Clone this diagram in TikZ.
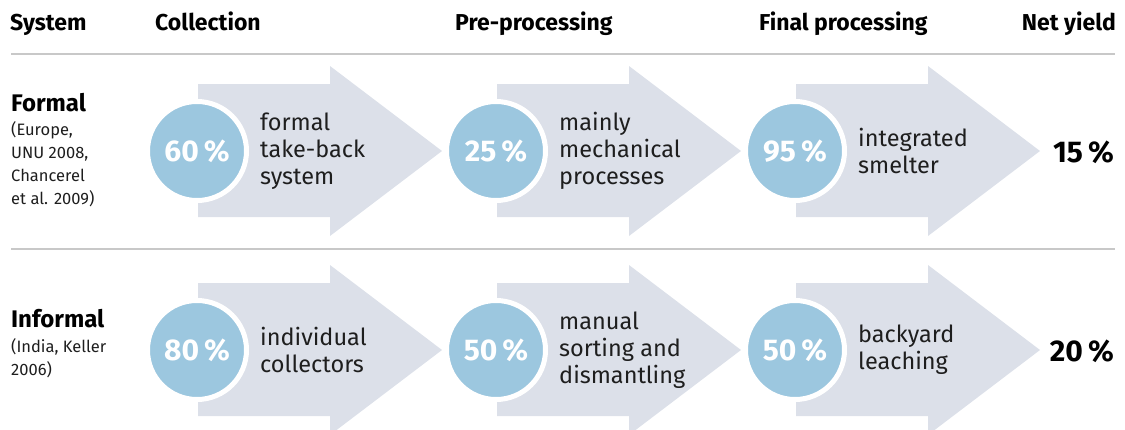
\documentclass[tikz,border=0pt]{standalone}
\usepackage{fontspec}
\setmainfont{Fira Sans}
\definecolor{arrowgray}{HTML}{DCE0E9}
\definecolor{circblue}{HTML}{9CC7DF}
\definecolor{rulegray}{HTML}{C8C8C8}
\definecolor{txt}{HTML}{1E1E1E}
\tikzset{
  head/.style={anchor=base west, inner sep=0pt, font=\fontsize{23}{27}\selectfont\bfseries, text=black},
  sysname/.style={anchor=base west, inner sep=0pt, font=\fontsize{24}{28}\selectfont\bfseries, text=black},
  srcnote/.style={anchor=base west, inner sep=0pt, font=\fontsize{16.5}{23}\selectfont, text=txt},
  steptext/.style={anchor=west, inner sep=0pt, align=left, font=\fontsize{23.5}{27}\selectfont, text=txt},
  pct/.style={circle, fill=circblue, draw=white, line width=5pt, minimum size=99pt, inner sep=0pt, font=\fontsize{30}{31}\selectfont\bfseries, text=white},
  yield/.style={anchor=east, inner sep=0pt, font=\fontsize{30}{31}\selectfont\bfseries, text=black},
  rowrule/.style={draw=rulegray, line width=1.5pt}
}
\newcommand{\bigarrow}[2]{%
  \fill[arrowgray] (#1,#2-67) -- ++(132,0) -- ++(0,-18) -- (#1+244,#2) -- (#1+132,#2+85) -- ++(0,-19) -- (#1,#2+66) -- cycle;}
\begin{document}
\begin{tikzpicture}[x=1pt,y=-1pt]
\useasboundingbox (0,0) rectangle (1125,429);
% headers
\node[head] (hsys) at (10,30) {System};
\node[head] (hcol) at (155,30) {Collection};
\node[head] (hpre) at (455,30) {Pre-processing};
\node[head] (hfin) at (759,30) {Final processing};
\node[head, anchor=base east] (hnet) at (1116,30) {Net yield};
% rules
\coordinate (r1a) at (11,54); \coordinate (r1b) at (1115,54);
\coordinate (r2a) at (11,249); \coordinate (r2b) at (1115,249);
\draw[rowrule] (r1a) -- (r1b);
\draw[rowrule] (r2a) -- (r2b);
% row 1
\node[sysname] (formal) at (11,111) {Formal};
\node[srcnote] (f1) at (11,135) {(Europe,};
\node[srcnote] (f2) at (11,158) {UNU 2008,};
\node[srcnote] (f3) at (11,181) {Chancerel};
\node[srcnote] (f4) at (11,204) {et al. 2009)};
\bigarrow{198}{151}
\bigarrow{497}{151}
\bigarrow{796}{151}
\node[pct] (c11) at (197,151) {60\,\%};
\node[pct] (c12) at (496,151) {25\,\%};
\node[pct] (c13) at (795,151) {95\,\%};
\node[steptext] (t11) at (260,151) {formal\\take-back\\system};
\node[steptext] (t12) at (559,151) {mainly\\mechanical\\processes};
\node[steptext] (t13) at (858,151) {integrated\\smelter};
\node[yield] (y1) at (1114,152) {15\,\%};
% row 2
\node[sysname] (informal) at (11,327) {Informal};
\node[srcnote] (i1) at (11,352) {(India, Keller};
\node[srcnote] (i2) at (11,375) {2006)};
\bigarrow{198}{350}
\bigarrow{497}{350}
\bigarrow{796}{350}
\node[pct] (c21) at (197,350) {80\,\%};
\node[pct] (c22) at (496,350) {50\,\%};
\node[pct] (c23) at (795,350) {50\,\%};
\node[steptext] (t21) at (260,350) {individual\\collectors};
\node[steptext] (t22) at (559,350) {manual\\sorting and\\dismantling};
\node[steptext] (t23) at (858,350) {backyard\\leaching};
\node[yield] (y2) at (1114,351) {20\,\%};
\end{tikzpicture}
\end{document}
